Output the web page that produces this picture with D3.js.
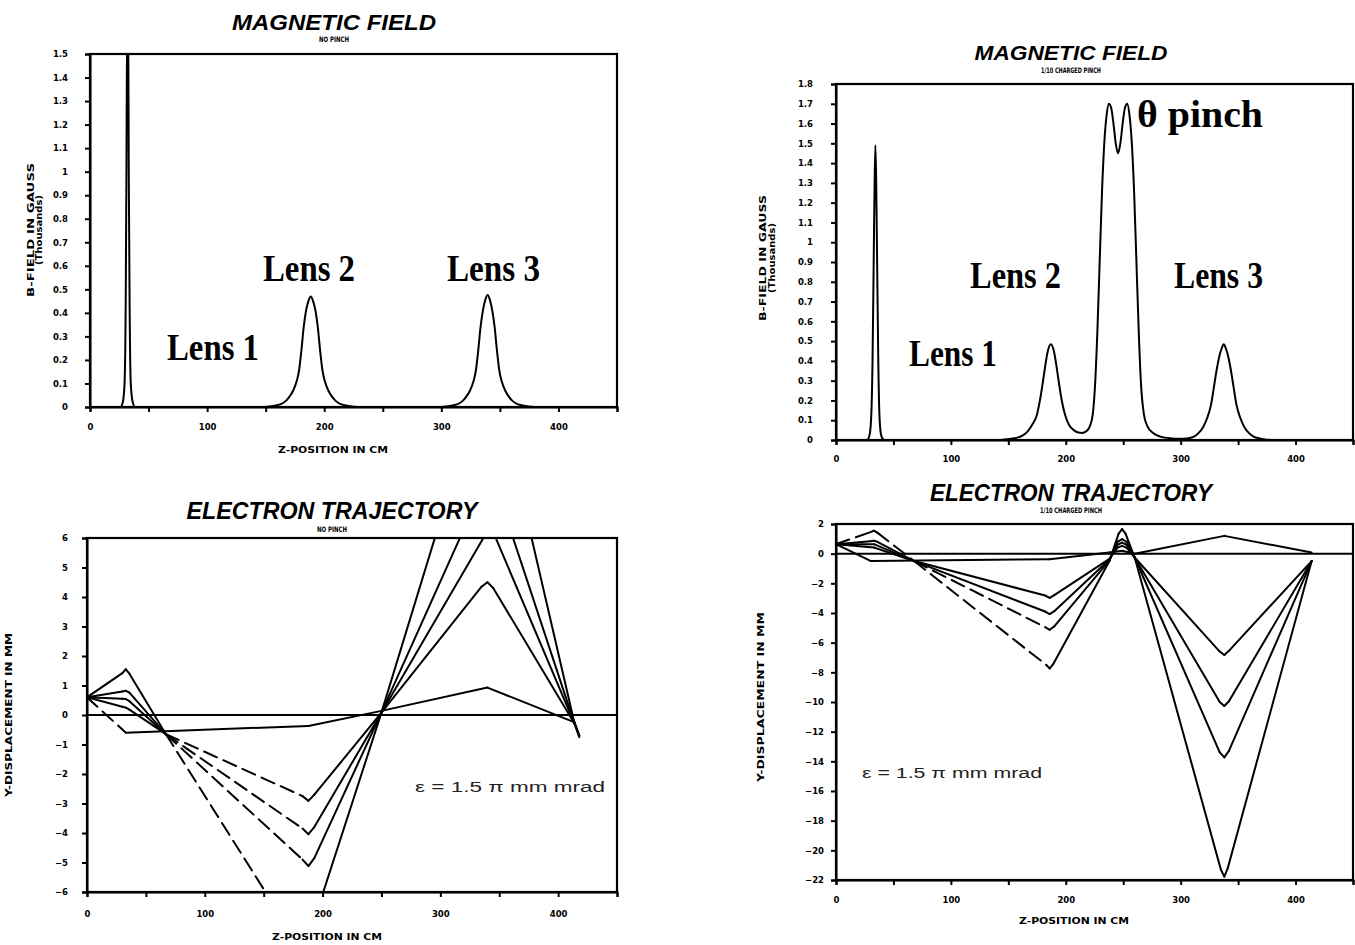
<!DOCTYPE html>
<html>
<head>
<meta charset="utf-8">
<style>
  body { margin: 0; background: #fff; }
  svg text { fill: #000; }
  .axis .tick text { font: bold 8.5px "DejaVu Sans", sans-serif; }
  .axis path, .axis line { stroke: #000; stroke-width: 2; }
  .frame { fill: none; stroke: #000; stroke-width: 2.2; }
  .curve { fill: none; stroke: #000; stroke-width: 2; stroke-linejoin: round; stroke-linecap: round; }
  .title { font: italic bold 22px "Liberation Sans", sans-serif; text-anchor: middle; }
  .subtitle { font: bold 7.5px "DejaVu Sans", sans-serif; text-anchor: middle; }
  .axlabel { font: bold 8px "DejaVu Sans", sans-serif; text-anchor: middle; }
  .lens { font: bold 38px "Liberation Serif", serif; }
  .emit { font: 14px "Liberation Sans", sans-serif; fill: #222; }
</style>
<script src="https://d3js.org/d3.v7.min.js"></script>
</head>
<body>
<svg width="1355" height="945"></svg>
<script>
// ---- data ----
var zTicks = [0, 50, 100, 150, 200, 250, 300, 350, 400, 450];
var fieldTicksNoPinch = [0, 0.1, 0.2, 0.3, 0.4, 0.5, 0.6, 0.7, 0.8, 0.9, 1, 1.1, 1.2, 1.3, 1.4, 1.5];
var fieldTicksPinch = [0, 0.1, 0.2, 0.3, 0.4, 0.5, 0.6, 0.7, 0.8, 0.9, 1, 1.1, 1.2, 1.3, 1.4, 1.5, 1.6, 1.7, 1.8];
var trajTicksNoPinch = [-6, -5, -4, -3, -2, -1, 0, 1, 2, 3, 4, 5, 6];
var trajTicksPinch = [-22, -20, -18, -16, -14, -12, -10, -8, -6, -4, -2, 0, 2];

// B-field (thousands of gauss) vs z (cm), no pinch
var fieldNoPinch = [
  [0, 0], [26, 0], [28, 0.02], [29.5, 0.1], [30.5, 0.45], [31.2, 1.1], [31.7, 1.62], [32.6, 1.62],
  [33.1, 1.0], [33.8, 0.45], [34.8, 0.1], [36.5, 0.02], [38.5, 0],
  [148.5, 0], [158.5, 0.006], [164.5, 0.016], [167.5, 0.027], [170.5, 0.045], [173.5, 0.07],
  [176.5, 0.11], [178.5, 0.155], [180.5, 0.24], [182.5, 0.34], [184.5, 0.41], [186.5, 0.45],
  [188.5, 0.47], [190.5, 0.45], [192.5, 0.41], [194.5, 0.34], [196.5, 0.24], [198.5, 0.155],
  [200.5, 0.11], [203.5, 0.07], [206.5, 0.045], [209.5, 0.027], [212.5, 0.016], [218.5, 0.006],
  [228.5, 0], [299.5, 0], [309.5, 0.006], [315.5, 0.016], [318.5, 0.027], [321.5, 0.045],
  [324.5, 0.07], [327.5, 0.11], [329.5, 0.155], [331.5, 0.24], [333.5, 0.34], [335.5, 0.41],
  [337.5, 0.455], [339.5, 0.476], [341.5, 0.455], [343.5, 0.41], [345.5, 0.34], [347.5, 0.24],
  [349.5, 0.155], [351.5, 0.11], [354.5, 0.07], [357.5, 0.045], [360.5, 0.027], [363.5, 0.016],
  [369.5, 0.006], [379.5, 0], [450, 0]
];

// B-field with 1/10 charged theta pinch
var fieldPinch = [
  [0, 0], [27, 0], [29, 0.02], [30.5, 0.1], [31.8, 0.4], [32.8, 0.9], [33.6, 1.3], [34.3, 1.49],
  [35, 1.3], [35.8, 0.9], [36.8, 0.4], [38, 0.1], [39.5, 0.02], [42, 0],
  [140, 0], [150, 0.005], [158, 0.012], [163, 0.025], [167, 0.045], [171, 0.08], [174.5, 0.12],
  [177.5, 0.2], [180, 0.29], [182, 0.37], [184, 0.44], [187, 0.484], [190, 0.44], [192, 0.37],
  [194, 0.29], [196.5, 0.2], [199.5, 0.125], [203, 0.075], [207, 0.05], [211, 0.038], [214, 0.036],
  [218, 0.045], [221, 0.07], [223.5, 0.13], [225.5, 0.28], [227.5, 0.55], [229.5, 0.9],
  [231.5, 1.25], [233.5, 1.5], [235.5, 1.64], [237.5, 1.7], [239.5, 1.68], [241.5, 1.6],
  [243.5, 1.5], [245.5, 1.45], [247.5, 1.5], [249.5, 1.6], [251.5, 1.68], [253.5, 1.7],
  [255.5, 1.64], [257.5, 1.5], [259.5, 1.25], [261.5, 0.9], [263.5, 0.55], [265.5, 0.28],
  [268, 0.13], [271, 0.07], [276, 0.035], [283, 0.016], [292, 0.008], [298, 0.006],
  [305.5, 0.008], [311.5, 0.017], [315.5, 0.035], [319.5, 0.065], [323, 0.11], [326.5, 0.18],
  [329, 0.27], [331.5, 0.36], [333.5, 0.42], [335.5, 0.46], [337.5, 0.484], [339.5, 0.46],
  [341.5, 0.42], [343.5, 0.36], [346, 0.27], [348.5, 0.18], [352, 0.11], [355.5, 0.065],
  [359.5, 0.035], [363.5, 0.017], [369.5, 0.007], [379.5, 0], [450, 0]
];

// electron trajectories (y-displacement mm vs z cm), no pinch
var noPinchA = [[0, 0.6], [30, 1.42], [33, 1.55], [36, 1.4], [67, -0.65], [180, -7.8], [183, -8.0], [186, -7.8],
  [250, 0.08], [339, 11.7], [342, 12], [345, 11.6], [414, -0.3], [418, -0.75]];
var noPinchB = [[0, 0.6], [30, 0.8], [33, 0.82], [36, 0.76], [67, -0.65], [183, -4.9], [188, -5.12], [193, -4.85],
  [250, 0.08], [338, 7.9], [342, 8.2], [346, 7.9], [414, -0.3]];
var noPinchC = [[0, 0.6], [30, 0.55], [33, 0.54], [36, 0.47], [67, -0.65], [183, -3.85], [188, -4.04], [193, -3.8],
  [250, 0.08], [338, 6.1], [342, 6.35], [346, 6.1], [414, -0.3], [418, -0.7]];
var noPinchD = [[0, 0.6], [30, 0.28], [33, 0.25], [36, 0.18], [67, -0.65], [183, -2.75], [188, -2.91], [193, -2.7],
  [250, 0.08], [335, 4.35], [340, 4.5], [345, 4.3], [414, -0.3]];
var noPinchE = [[0, 0.6], [33, -0.6], [188, -0.37], [250, 0.14], [340, 0.93], [414, -0.25], [418, -0.7]];

// electron trajectories, 1/10 charged pinch
var pinchA = [[0, 0.64], [30, 1.45], [33, 1.55], [36, 1.42], [68, -0.5], [183, -7.5], [186, -7.74], [189, -7.45],
  [238, -0.5], [246, 1.35], [249, 1.66], [252, 1.35], [260, -0.26], [335, -21.3], [338, -21.77], [341, -21.2], [414, -0.5]];
var pinchB = [[0, 0.64], [30, 0.84], [33, 0.87], [36, 0.8], [68, -0.5], [182, -4.95], [186, -5.13], [190, -4.9],
  [238, -0.45], [245, 0.8], [249, 0.98], [253, 0.8], [260, -0.26], [334, -13.4], [338, -13.73], [342, -13.3], [414, -0.5]];
var pinchC = [[0, 0.64], [33, 0.64], [68, -0.5], [182, -3.9], [186, -4.07], [190, -3.88],
  [238, -0.4], [245, 0.6], [249, 0.75], [253, 0.6], [260, -0.26], [334, -10], [338, -10.27], [342, -9.95], [414, -0.5]];
var pinchD = [[0, 0.64], [33, 0.42], [68, -0.5], [182, -2.82], [186, -2.98], [190, -2.8],
  [238, -0.35], [245, 0.4], [249, 0.53], [253, 0.4], [260, -0.26], [334, -6.6], [338, -6.83], [342, -6.55], [414, -0.5]];
var pinchE = [[0, 0.64], [30, -0.49], [186, -0.38], [238, 0.08], [249, 0.2], [260, 0], [338, 1.2], [414, 0.08]];

// ---- layout ----
var svg = d3.select("svg");

var panels = [
  { left: 90, right: 617, top: 54, bottom: 407, yDomain: [0, 1.5], yTicks: fieldTicksNoPinch, yPad: 17, xPad: 12,
    title: "MAGNETIC FIELD", titleX: 334, titleY: 30, titleW: 204, titleSize: 22,
    sub: "NO PINCH", subY: 42, subW: 30,
    yLabel: ["B-FIELD IN GAUSS", "(Thousands)"], yLabelX: [34, 42], yLabelY: 230, yLabelW: [134, 70],
    xLabel: "Z-POSITION IN CM", xLabelX: 333, xLabelY: 453,
    field: fieldNoPinch },
  { left: 836, right: 1353, top: 84, bottom: 440, yDomain: [0, 1.8], yTicks: fieldTicksPinch, yPad: 18, xPad: 11,
    title: "MAGNETIC FIELD", titleX: 1071, titleY: 60, titleW: 193, titleSize: 21,
    sub: "1/10 CHARGED PINCH", subY: 73, subW: 60,
    yLabel: ["B-FIELD IN GAUSS", "(Thousands)"], yLabelX: [766, 775], yLabelY: 258, yLabelW: [126, 70],
    xLabel: null,
    field: fieldPinch },
  { left: 87, right: 617, top: 538, bottom: 892, yDomain: [-6, 6], yTicks: trajTicksNoPinch, yPad: 14, xPad: 14,
    title: "ELECTRON TRAJECTORY", titleX: 332, titleY: 519, titleW: 291, titleSize: 24,
    sub: "NO PINCH", subY: 532, subW: 30,
    yLabel: ["Y-DISPLACEMENT IN MM"], yLabelX: [12], yLabelY: 715, yLabelW: [164],
    xLabel: "Z-POSITION IN CM", xLabelX: 327, xLabelY: 940,
    traj: [noPinchA, noPinchB, noPinchC, noPinchD, noPinchE],
    dashes: [[67, 180], [67, 183], [67, 183], [67, 183], [0, 33]] },
  { left: 836, right: 1353, top: 524, bottom: 880, yDomain: [-22, 2], yTicks: trajTicksPinch, yPad: 7, xPad: 12,
    title: "ELECTRON TRAJECTORY", titleX: 1071, titleY: 501, titleW: 282, titleSize: 24,
    sub: "1/10 CHARGED PINCH", subY: 513, subW: 62,
    yLabel: ["Y-DISPLACEMENT IN MM"], yLabelX: [764], yLabelY: 697, yLabelW: [170],
    xLabel: "Z-POSITION IN CM", xLabelX: 1074, xLabelY: 924,
    traj: [pinchA, pinchB, pinchC, pinchD, pinchE],
    dashes: [[0, 183], [68, 182], null, null, null] }
];

panels.forEach(function(p, i) {
  var x = d3.scaleLinear().domain([0, 450]).range([p.left, p.right]);
  var y = d3.scaleLinear().domain(p.yDomain).range([p.bottom, p.top]);

  svg.append("clipPath").attr("id", "clip" + i)
     .append("rect").attr("x", p.left).attr("y", p.top)
     .attr("width", p.right - p.left).attr("height", p.bottom - p.top);

  // axes
  svg.append("g").attr("class", "axis")
     .attr("transform", "translate(0," + p.bottom + ")")
     .call(d3.axisBottom(x).tickValues(zTicks).tickSize(5).tickPadding(p.xPad)
            .tickFormat(function(d) { return (d % 100 === 0 && d < 450) ? d : ""; }));
  svg.append("g").attr("class", "axis")
     .attr("transform", "translate(" + p.left + ",0)")
     .call(d3.axisLeft(y).tickValues(p.yTicks).tickSize(5).tickPadding(p.yPad)
            .tickFormat(d3.format("~g")));

  svg.append("rect").attr("class", "frame")
     .attr("x", p.left).attr("y", p.top)
     .attr("width", p.right - p.left).attr("height", p.bottom - p.top);

  var plot = svg.append("g").attr("clip-path", "url(#clip" + i + ")");

  if (p.field) {
    var fline = d3.line().x(function(d) { return x(d[0]); }).y(function(d) { return y(d[1]); })
                  .curve(d3.curveMonotoneX);
    plot.append("path").datum(p.field).attr("class", "curve").attr("d", fline);
  }

  if (p.traj) {
    // y = 0 reference line
    plot.append("line").attr("class", "curve")
        .attr("x1", p.left).attr("x2", p.right).attr("y1", y(0)).attr("y2", y(0));
    var tline = d3.line().x(function(d) { return x(d[0]); }).y(function(d) { return y(d[1]); });
    p.traj.forEach(function(pts, k) {
      var dr = p.dashes[k];
      for (var s = 0; s < pts.length - 1; s++) {
        var mid = (pts[s][0] + pts[s + 1][0]) / 2;
        var dashed = dr && mid > dr[0] && mid < dr[1];
        plot.append("path").datum([pts[s], pts[s + 1]]).attr("class", "curve")
            .attr("d", tline).attr("stroke-dasharray", dashed ? "14,7" : null);
      }
    });
  }

  // titles and labels
  svg.append("text").attr("class", "title").attr("x", p.titleX).attr("y", p.titleY)
     .style("font-size", p.titleSize + "px")
     .attr("textLength", p.titleW).attr("lengthAdjust", "spacingAndGlyphs").text(p.title);
  svg.append("text").attr("class", "subtitle").attr("x", p.titleX).attr("y", p.subY)
     .attr("textLength", p.subW).attr("lengthAdjust", "spacingAndGlyphs").text(p.sub);

  p.yLabel.forEach(function(t, k) {
    svg.append("text").attr("class", "axlabel")
       .attr("transform", "translate(" + p.yLabelX[k] + "," + p.yLabelY + ") rotate(-90)")
       .attr("textLength", p.yLabelW[k]).attr("lengthAdjust", "spacingAndGlyphs").text(t);
  });
  if (p.xLabel) {
    svg.append("text").attr("class", "axlabel").attr("x", p.xLabelX).attr("y", p.xLabelY)
       .attr("textLength", 110).attr("lengthAdjust", "spacingAndGlyphs").text(p.xLabel);
  }
});

// lens annotations
function note(txt, x0, base, w) {
  svg.append("text").attr("class", "lens").attr("x", x0).attr("y", base)
     .attr("textLength", w).attr("lengthAdjust", "spacingAndGlyphs").text(txt);
}
note("Lens 1", 167, 360, 92);
note("Lens 2", 263, 281, 92);
note("Lens 3", 447, 281, 93);
note("Lens 1", 909, 366, 88);
note("Lens 2", 970, 288, 91);
note("Lens 3", 1174, 288, 89);
note("\u03b8 pinch", 1137, 127, 126);

svg.append("text").attr("class", "emit").attr("x", 415).attr("y", 792)
   .attr("textLength", 190).attr("lengthAdjust", "spacingAndGlyphs").text("\u03b5 = 1.5 \u03c0 mm mrad");
svg.append("text").attr("class", "emit").attr("x", 862).attr("y", 778)
   .attr("textLength", 180).attr("lengthAdjust", "spacingAndGlyphs").text("\u03b5 = 1.5 \u03c0 mm mrad");
</script>
</body>
</html>
